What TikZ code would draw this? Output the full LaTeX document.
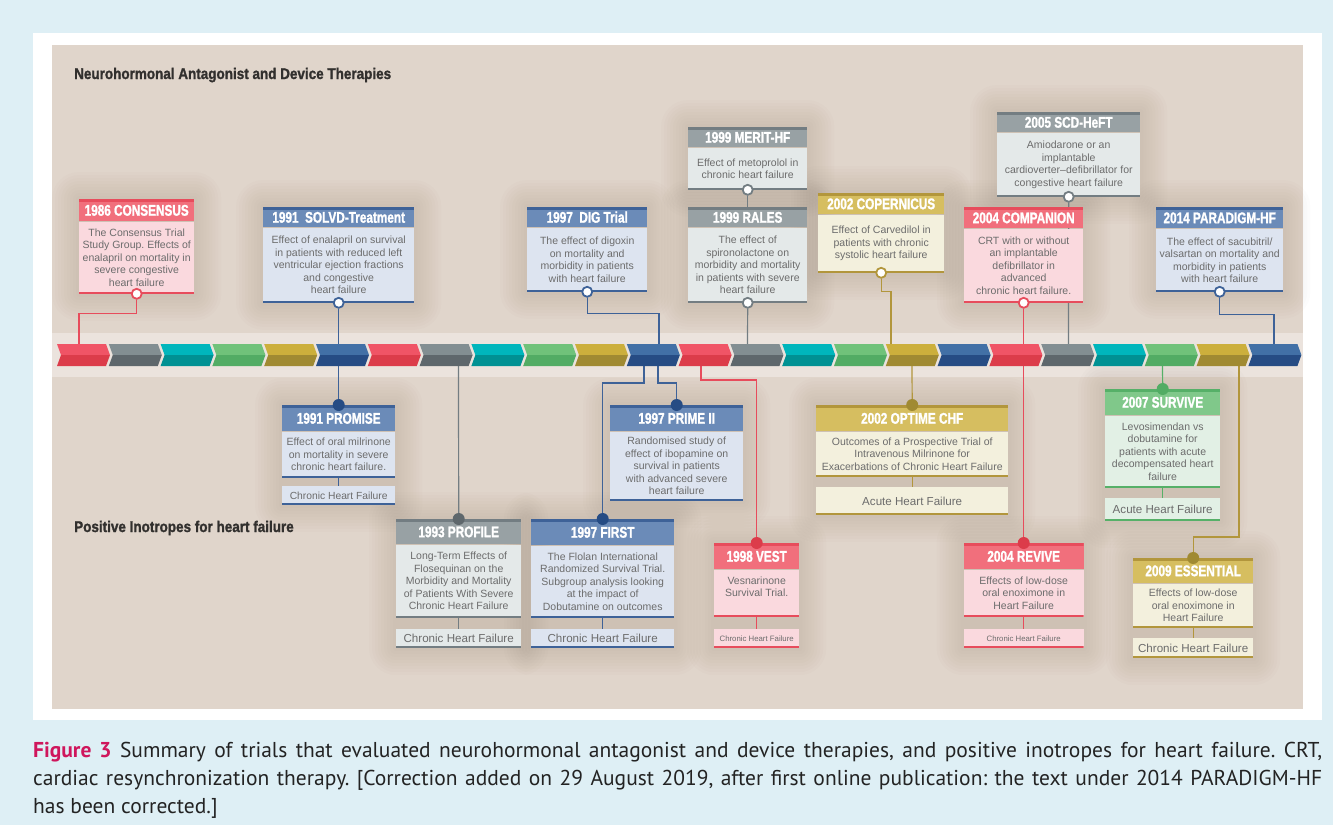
\documentclass[tikz,border=0pt]{standalone}
\usepackage{fontspec}
\setmainfont{Liberation Sans}
\newfontfamily\headfont[FakeStretch=0.76,FakeBold=1.3]{Liberation Sans}
\newfontfamily\titlefont[FakeStretch=0.87,FakeBold=1.3]{Liberation Sans}
\newfontfamily\capfont{PT Sans}
\usetikzlibrary{positioning}
\pgfdeclarelayer{bg}
\pgfdeclarelayer{shade}
\pgfdeclarelayer{wires}
\pgfsetlayers{bg,shade,wires,main}
\frenchspacing

\definecolor{pageblue}{RGB}{222,239,245}
\definecolor{sand}{RGB}{224,213,203}
\definecolor{sandband}{RGB}{235,227,221}
\definecolor{inkdark}{RGB}{50,48,46}
\definecolor{textgray}{RGB}{108,108,108}
\definecolor{capink}{RGB}{35,35,35}
\definecolor{figred}{RGB}{207,22,92}
% red
\definecolor{rdtop}{RGB}{240,84,102}
\definecolor{rdbot}{RGB}{220,60,74}
\definecolor{rdhead}{RGB}{241,111,124}
\definecolor{rdline}{RGB}{231,76,92}
\definecolor{rdbody}{RGB}{250,217,222}
% blue
\definecolor{bltop}{RGB}{66,112,166}
\definecolor{blbot}{RGB}{38,76,132}
\definecolor{blhead}{RGB}{107,139,184}
\definecolor{blline}{RGB}{62,98,152}
\definecolor{blbody}{RGB}{221,228,240}
% gray
\definecolor{gytop}{RGB}{130,142,146}
\definecolor{gybot}{RGB}{94,103,108}
\definecolor{gyhead}{RGB}{152,161,164}
\definecolor{gyline}{RGB}{115,125,130}
\definecolor{gybody}{RGB}{228,233,233}
% olive
\definecolor{oltop}{RGB}{204,175,60}
\definecolor{olbot}{RGB}{160,138,50}
\definecolor{olhead}{RGB}{214,190,96}
\definecolor{olline}{RGB}{178,150,60}
\definecolor{olbody}{RGB}{243,240,221}
% green
\definecolor{gntop}{RGB}{112,194,122}
\definecolor{gnbot}{RGB}{82,172,100}
\definecolor{gnhead}{RGB}{128,200,138}
\definecolor{gnline}{RGB}{86,176,104}
\definecolor{gnbody}{RGB}{226,240,229}
% teal
\definecolor{tltop}{RGB}{0,182,188}
\definecolor{tlbot}{RGB}{0,145,147}

\tikzset{
  head/.style={fill=#1head, text=white, anchor=north west, inner sep=0pt,
    font=\headfont\bfseries\fontsize{15.5}{15.5}\selectfont, text height=11pt, text depth=0pt,
    path picture={\fill[#1line] (path picture bounding box.north west) rectangle ([yshift=-2.5pt]path picture bounding box.north east);}},
  blurb/.style={fill=#1body, text=textgray, align=center, inner sep=0pt,
    font=\fontsize{10.5}{12.5}\selectfont,
    path picture={\fill[#1line] (path picture bounding box.south west) rectangle ([yshift=2pt]path picture bounding box.south east);}},
  catbox/.style={fill=#1body, text=textgray, inner sep=0pt,
    font=\fontsize{11.6}{13}\selectfont,
    path picture={\fill[#1line] (path picture bounding box.south west) rectangle ([yshift=2pt]path picture bounding box.south east);}},
  ringmark/.style={circle, draw=#1line, line width=1.8pt, fill=white, minimum size=10pt, inner sep=0pt},
  dotmark/.style={circle, fill=#1bot, minimum size=12pt, inner sep=0pt},
  conn/.style={draw=#1line, line width=1.2pt},
  halo/.style={fill=black!70!brown, opacity=0.011, rounded corners=#1pt},
}

\begin{document}
\begin{tikzpicture}[x=1pt,y=-1pt]
\useasboundingbox (0,0) rectangle (1333,825);
\begin{pgfonlayer}{bg}
\fill[pageblue] (0,0) rectangle (1333,825);
\fill[white] (33,33) rectangle (1322,720);
\fill[sand] (52,45) rectangle (1303,709);
\fill[sandband] (52,333) rectangle (1303,377);
\end{pgfonlayer}

% timeline
\foreach \r in {0,...,3}
  \foreach \col [count=\k from 0] in {rd,gy,tl,gn,ol,bl} {
    \pgfmathsetmacro\xa{57+51.8*(6*\r+\k)}
    \fill[fill=\col top] (\xa,344) -- ++(49,0) -- ++(4,11) -- ++(-49,0) -- cycle;
    \fill[fill=\col bot] (\xa+4,355) -- ++(49,0) -- ++(-4,11) -- ++(-49,0) -- cycle;
  }
\coordinate (t1986) at (79,344);
\coordinate (t1993) at (458.5,366);
\coordinate (t1997a) at (659,344);
\coordinate (t1997b) at (644,366);
\coordinate (t1997c) at (658,366);
\coordinate (t1998) at (701,366);
\coordinate (t1999) at (747.5,344);
\coordinate (t2002a) at (891,344);
\coordinate (t2002b) at (912,366);
\coordinate (t2005) at (1068.5,344);
\coordinate (t2007) at (1162.5,366);
\coordinate (t2009) at (1239,366);
\coordinate (t2014) at (1274,344);

\node[anchor=base west, inner sep=0pt, text=inkdark, font=\titlefont\bfseries\fontsize{15.5}{16}\selectfont] (neuro) at (74,79) {Neurohormonal Antagonist and Device Therapies};
\node[anchor=base west, inner sep=0pt, text=inkdark, font=\titlefont\bfseries\fontsize{15.5}{16}\selectfont] (inotropes) at (74,532) {Positive Inotropes for heart failure};

% neurohormonal and device trials
\node[head=rd, minimum width=115pt, minimum height=22pt] (consensus) at (79,199) {1986 CONSENSUS};
\node[blurb=rd, minimum width=115pt, minimum height=72pt, below=0pt of consensus] (consensus-t) {The Consensus Trial\\Study Group. Effects of\\enalapril on mortality in\\severe congestive\\heart failure};
\node[ringmark=rd] (consensus-o) at (consensus-t.south) {};

\node[head=bl, minimum width=151pt, minimum height=20pt] (solvd) at (263,207) {1991\ \ SOLVD-Treatment};
\node[blurb=bl, minimum width=151pt, minimum height=75pt, below=0pt of solvd] (solvd-t) {Effect of enalapril on survival\\in patients with reduced left\\ventricular ejection fractions\\and congestive\\heart failure};
\node[ringmark=bl] (solvd-o) at (solvd-t.south) {};

\node[head=bl, minimum width=120pt, minimum height=20pt] (dig) at (527,207) {1997\ \ DIG Trial};
\node[blurb=bl, minimum width=120pt, minimum height=64pt, below=0pt of dig] (dig-t) {The effect of digoxin\\on mortality and\\morbidity in patients\\with heart failure};
\node[ringmark=bl] (dig-o) at (dig-t.south) {};

\node[head=gy, minimum width=119pt, minimum height=20pt] (merit) at (688,127) {1999 MERIT-HF};
\node[blurb=gy, minimum width=119pt, minimum height=42pt, below=0pt of merit] (merit-t) {Effect of metoprolol in\\chronic heart failure};
\node[ringmark=gy] (merit-o) at (merit-t.south) {};

\node[head=gy, minimum width=119pt, minimum height=20pt] (rales) at (688,207) {1999 RALES};
\node[blurb=gy, minimum width=119pt, minimum height=75pt, below=0pt of rales] (rales-t) {The effect of\\spironolactone on\\morbidity and mortality\\in patients with severe\\heart failure};
\node[ringmark=gy] (rales-o) at (rales-t.south) {};

\node[head=ol, minimum width=126pt, minimum height=21pt] (copernicus) at (818,193) {2002 COPERNICUS};
\node[blurb=ol, minimum width=126pt, minimum height=58pt, below=0pt of copernicus] (copernicus-t) {Effect of Carvedilol in\\patients with chronic\\systolic heart failure};
\node[ringmark=ol] (copernicus-o) at (copernicus-t.south) {};

\node[head=gy, minimum width=143pt, minimum height=20pt] (scd) at (997,112) {2005 SCD-HeFT};
\node[blurb=gy, minimum width=143pt, minimum height=64pt, below=0pt of scd] (scd-t) {Amiodarone or an\\implantable\\cardioverter--defibrillator for\\congestive heart failure};
\node[ringmark=gy] (scd-o) at (scd-t.south) {};

\node[head=rd, minimum width=119pt, minimum height=21pt] (companion) at (964,207) {2004 COMPANION};
\node[blurb=rd, minimum width=119pt, minimum height=74pt, below=0pt of companion] (companion-t) {CRT with or without\\an implantable\\defibrillator in\\advanced\\chronic heart failure.};
\node[ringmark=rd] (companion-o) at (companion-t.south) {};

\node[head=bl, minimum width=127pt, minimum height=21pt] (paradigm) at (1156,207) {2014 PARADIGM-HF};
\node[blurb=bl, minimum width=127pt, minimum height=63pt, below=0pt of paradigm] (paradigm-t) {The effect of sacubitril/\\valsartan on mortality and\\morbidity in patients\\with heart failure};
\node[ringmark=bl] (paradigm-o) at (paradigm-t.south) {};

% positive inotropes
\node[head=bl, minimum width=113pt, minimum height=26pt] (promise) at (282,405) {1991 PROMISE};
\node[blurb=bl, minimum width=113pt, minimum height=46pt, below=0pt of promise] (promise-t) {Effect of oral milrinone\\on mortality in severe\\chronic heart failure.};
\node[catbox=bl, minimum width=113pt, minimum height=19pt, below=8pt of promise-t, font=\fontsize{10.3}{12}\selectfont] (promise-c) {Chronic Heart Failure};
\node[dotmark=bl] (promise-o) at (promise.north) {};

\node[head=gy, minimum width=125pt, minimum height=25pt] (profile) at (396,519) {1993 PROFILE};
\node[blurb=gy, minimum width=125pt, minimum height=73pt, below=0pt of profile] (profile-t) {Long-Term Effects of\\Flosequinan on the\\Morbidity and Mortality\\of Patients With Severe\\Chronic Heart Failure};
\node[catbox=gy, minimum width=125pt, minimum height=19pt, below=11pt of profile-t] (profile-c) {Chronic Heart Failure};
\node[dotmark=gy] (profile-o) at (profile.north) {};

\node[head=bl, minimum width=143pt, minimum height=26pt] (first) at (531,519) {1997 FIRST};
\node[blurb=bl, minimum width=143pt, minimum height=72pt, below=0pt of first] (first-t) {The Flolan International\\Randomized Survival Trial.\\Subgroup analysis looking\\at the impact of\\Dobutamine on outcomes};
\node[catbox=bl, minimum width=143pt, minimum height=19pt, below=11pt of first-t] (first-c) {Chronic Heart Failure};
\node[dotmark=bl] (first-o) at (first.north) {};

\node[head=bl, minimum width=133pt, minimum height=26pt] (prime) at (610,405) {1997 PRIME II};
\node[blurb=bl, minimum width=133pt, minimum height=69pt, below=0pt of prime] (prime-t) {Randomised study of\\effect of ibopamine on\\survival in patients\\with advanced severe\\heart failure};
\node[dotmark=bl] (prime-o) at (prime.north) {};

\node[head=rd, minimum width=85pt, minimum height=26pt] (vest) at (714,543) {1998 VEST};
\node[blurb=rd, minimum width=85pt, minimum height=47pt, below=0pt of vest] (vest-t) {Vesnarinone\\Survival Trial.\\\mbox{}};
\node[catbox=rd, minimum width=85pt, minimum height=19pt, below=12pt of vest-t, font=\fontsize{7.8}{9}\selectfont] (vest-c) {Chronic Heart Failure};
\node[dotmark=rd] (vest-o) at (vest.north) {};

\node[head=ol, minimum width=192pt, minimum height=26pt] (optime) at (816,405) {2002 OPTIME CHF};
\node[blurb=ol, minimum width=192pt, minimum height=45pt, below=0pt of optime] (optime-t) {Outcomes of a Prospective Trial of\\Intravenous Milrinone for\\Exacerbations of Chronic Heart Failure};
\node[catbox=ol, minimum width=192pt, minimum height=28pt, below=10pt of optime-t] (optime-c) {Acute Heart Failure};
\node[dotmark=ol] (optime-o) at (optime.north) {};

\node[head=rd, minimum width=120pt, minimum height=26pt] (revive) at (963.5,543) {2004 REVIVE};
\node[blurb=rd, minimum width=120pt, minimum height=47pt, below=0pt of revive] (revive-t) {Effects of low-dose\\oral enoximone in\\Heart Failure};
\node[catbox=rd, minimum width=120pt, minimum height=19pt, below=12pt of revive-t, font=\fontsize{7.8}{9}\selectfont] (revive-c) {Chronic Heart Failure};
\node[dotmark=rd] (revive-o) at (revive.north) {};

\node[head=gn, minimum width=115pt, minimum height=26pt] (survive) at (1105,389) {2007 SURVIVE};
\node[blurb=gn, minimum width=115pt, minimum height=72pt, below=0pt of survive] (survive-t) {Levosimendan vs\\dobutamine for\\patients with acute\\decompensated heart\\failure};
\node[catbox=gn, minimum width=115pt, minimum height=23pt, below=10pt of survive-t] (survive-c) {Acute Heart Failure};
\node[dotmark=gn] (survive-o) at (survive.north) {};

\node[head=ol, minimum width=120pt, minimum height=25pt] (essential) at (1133,558) {2009 ESSENTIAL};
\node[blurb=ol, minimum width=120pt, minimum height=44pt, below=0pt of essential] (essential-t) {Effects of low-dose\\oral enoximone in\\Heart Failure};
\node[catbox=ol, minimum width=120pt, minimum height=20pt, below=10pt of essential-t] (essential-c) {Chronic Heart Failure};
\node[dotmark=ol] (essential-o) at (essential.north) {};

% soft shadows round the boxes
\begin{pgfonlayer}{shade}
\foreach \a/\b in {consensus/consensus-t,solvd/solvd-t,dig/dig-t,merit/merit-t,rales/rales-t,copernicus/copernicus-t,scd/scd-t,companion/companion-t,paradigm/paradigm-t,promise/promise-c,profile/profile-c,first/first-c,prime/prime-t,vest/vest-c,optime/optime-c,revive/revive-c,survive/survive-c,essential/essential-c}
  \foreach \s in {3,6,...,27}
    \fill[halo=\s] ([shift={(-\s,-\s)}]\a.north west) rectangle ([shift={(\s,\s)}]\b.south east);
\end{pgfonlayer}

% connectors
\begin{pgfonlayer}{wires}
\draw[conn=rd] (consensus-o) -- ++(0,20) -| (t1986);
\draw[conn=bl] (solvd-o) -- (promise-o);
\draw[conn=gy] (t1993) -- (profile-o);
\draw[conn=bl] (dig-o) -- ++(0,22) -| (t1997a);
\draw[conn=bl] (t1997b) -- ++(0,17) -| (first-o);
\draw[conn=bl] (t1997c) -- ++(0,17) -| (prime-o);
\draw[conn=rd] (t1998) -- ++(0,14) -| (vest-o);
\draw[conn=gy] (merit-o) -- (merit-o |- rales.north);
\draw[conn=gy] (rales-o) -- (t1999);
\draw[conn=ol] (copernicus-o) -- ++(0,19) -| (t2002a);
\draw[conn=ol] (t2002b) -- (optime-o);
\draw[conn=gy] (scd-o) -- (t2005);
\draw[conn=rd] (companion-o) -- (revive-o);
\draw[conn=gn] (t2007) -- (survive-o);
\draw[conn=ol] (t2009) -- ++(0,171) -| (essential-o);
\draw[conn=bl] (paradigm-o) -- ++(0,23) -| (t2014);
\foreach \n/\c in {promise/bl,profile/gy,first/bl,vest/rd,optime/ol,revive/rd,survive/gn,essential/ol}
  \draw[conn=\c] (\n-t) -- (\n-c);
\end{pgfonlayer}

% caption
\node[anchor=base west, inner sep=0pt, text=capink, font=\capfont\fontsize{21.5}{28}\selectfont] (cap1) at (33,757) {\makebox[1289pt][s]{\textbf{\color{figred}Figure 3} Summary of trials that evaluated neurohormonal antagonist and device therapies, and positive inotropes for heart failure. CRT,}};
\node[anchor=base west, inner sep=0pt, text=capink, font=\capfont\fontsize{21.5}{28}\selectfont] (cap2) at (33,785) {\makebox[1289pt][s]{cardiac resynchronization therapy. [Correction added on 29 August 2019, after first online publication: the text under 2014 PARADIGM-HF}};
\node[anchor=base west, inner sep=0pt, text=capink, font=\capfont\fontsize{21.5}{28}\selectfont] (cap3) at (33,813) {has been corrected.]};
\end{tikzpicture}
\end{document}
